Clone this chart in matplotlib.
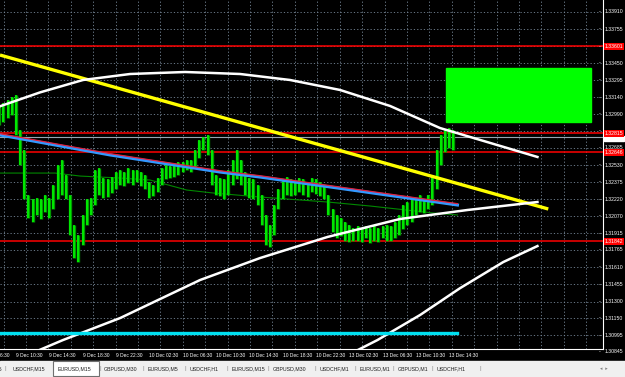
import numpy as np
import matplotlib.pyplot as plt
from matplotlib.patches import Rectangle
from matplotlib.transforms import blended_transform_factory

plt.rcParams['font.family'] = ['Liberation Sans', 'DejaVu Sans']

# bar data: 30 minute bars, time in hours from "9 Dec 10:30"
bar_t = np.arange(-2.0, 53.0, 0.5)
bar_hi = [1.3307, 1.3309, 1.3312, 1.3314, 1.3316, 1.3285, 1.3267, 1.3226, 1.3222, 1.3223,
          1.3222, 1.3226, 1.3223, 1.3235, 1.3253, 1.3258, 1.3244, 1.3226, 1.3199, 1.3190,
          1.3208, 1.3222, 1.3223, 1.3249, 1.3250, 1.3241, 1.3240, 1.3242, 1.3247, 1.3249,
          1.3247, 1.3250, 1.3249, 1.3249, 1.3247, 1.3244, 1.3238, 1.3235, 1.3241, 1.3250,
          1.3253, 1.3252, 1.3255, 1.3256, 1.3256, 1.3258, 1.3258, 1.3267, 1.3276, 1.3278,
          1.3280, 1.3267, 1.3244, 1.3241, 1.3240, 1.3249, 1.3258, 1.3267, 1.3258, 1.3247,
          1.3241, 1.3240, 1.3235, 1.3226, 1.3208, 1.3199, 1.3217, 1.3231, 1.3240, 1.3242,
          1.3240, 1.3238, 1.3241, 1.3240, 1.3238, 1.3241, 1.3240, 1.3238, 1.3235, 1.3226,
          1.3213, 1.3208, 1.3205, 1.3202, 1.3199, 1.3196, 1.3198, 1.3196, 1.3198, 1.3196,
          1.3199, 1.3196, 1.3198, 1.3199, 1.3198, 1.3202, 1.3208, 1.3217, 1.3220, 1.3222,
          1.3223, 1.3226, 1.3222, 1.3226, 1.3244, 1.3267, 1.3280, 1.3285, 1.3286, 1.3285]
bar_lo = [1.3289, 1.3292, 1.3295, 1.3298, 1.3280, 1.3253, 1.3222, 1.3205, 1.3202, 1.3208,
          1.3204, 1.3211, 1.3205, 1.3213, 1.3222, 1.3226, 1.3222, 1.3190, 1.3169, 1.3166,
          1.3181, 1.3199, 1.3208, 1.3217, 1.3226, 1.3223, 1.3224, 1.3228, 1.3231, 1.3235,
          1.3234, 1.3237, 1.3235, 1.3238, 1.3234, 1.3231, 1.3223, 1.3225, 1.3229, 1.3235,
          1.3240, 1.3241, 1.3242, 1.3244, 1.3247, 1.3249, 1.3247, 1.3250, 1.3259, 1.3267,
          1.3262, 1.3235, 1.3226, 1.3225, 1.3222, 1.3226, 1.3235, 1.3240, 1.3235, 1.3226,
          1.3223, 1.3222, 1.3217, 1.3199, 1.3181, 1.3179, 1.3190, 1.3213, 1.3222, 1.3226,
          1.3225, 1.3226, 1.3229, 1.3226, 1.3224, 1.3229, 1.3227, 1.3225, 1.3222, 1.3208,
          1.3193, 1.3187, 1.3189, 1.3185, 1.3184, 1.3185, 1.3185, 1.3184, 1.3187, 1.3183,
          1.3185, 1.3184, 1.3187, 1.3185, 1.3185, 1.3187, 1.3190, 1.3195, 1.3199, 1.3202,
          1.3208, 1.3211, 1.3210, 1.3213, 1.3217, 1.3231, 1.3253, 1.3265, 1.3268, 1.3267]

# moving average (blue with red) and thin green line
ma_t = [-1.92, 11.3, 24.5, 29.3, 53.0]
ma_p = [1.32801, 1.32621, 1.32467, 1.32422, 1.32170]
gl_t = [-1.92, 4.7, 7.7, 12.5, 16.1, 20.5, 23.7, 29.3, 37.4, 42.5, 50.1, 53.0]
gl_p = [1.32458, 1.32458, 1.32431, 1.32413, 1.32395, 1.32305, 1.32278, 1.32242, 1.32197, 1.32161, 1.32098, 1.32080]

# yellow trend line
tr_t = [-1.92, 63.9]
tr_p = [1.33522, 1.32134]

# white channel curves
up_t = [-1.92, 2.88, 8.05, 13.7, 20.3, 26.9, 32.9, 38.9, 44.9, 50.9, 62.6]
up_p = [1.33060, 1.33185, 1.33297, 1.33351, 1.33369, 1.33351, 1.33297, 1.33207, 1.33063, 1.32864, 1.32603]
lo_t = [1.68, 5.65, 12.5, 22.1, 29.3, 37.4, 46.1, 54.2, 62.6]
lo_p = [1.30827, 1.30953, 1.31151, 1.31494, 1.31692, 1.31882, 1.32044, 1.32125, 1.32197]
lo2_t = [40.1, 43.4, 48.5, 53.3, 58.5, 62.6]
lo2_p = [1.30827, 1.30953, 1.31178, 1.31420, 1.31656, 1.31800]

# horizontal levels
red_levels = [1.33601, 1.32817, 1.32646, 1.31842]
red_labels = ['1.33601', '1.32815', '1.32646', '1.31842']
bid = 1.32783
cyan_level = 1.31016
cyan_end = 53.0

# green box
box_t = [51.6, 69.0]
box_p = [1.32918, 1.33405]

price_ticks = [1.33910, 1.33755, 1.33600, 1.33450, 1.33295, 1.33140, 1.32990, 1.32835,
               1.32685, 1.32530, 1.32375, 1.32220, 1.32070, 1.31915, 1.31765, 1.31610,
               1.31455, 1.31300, 1.31150, 1.30995, 1.30845]
# labels hidden under the red level boxes are left empty
price_tick_labels = ['1.33910', '1.33755', '', '1.33450', '1.33295', '1.33140', '1.32990', '',
                     '1.32685', '1.32530', '1.32375', '1.32220', '1.32070', '1.31915', '1.31765',
                     '1.31610', '1.31455', '1.31300', '1.31150', '1.30995', '1.30845']

time_ticks = [-4, 0, 4, 8, 12, 16, 20, 24, 28, 32, 36, 40, 44, 48, 52]
time_labels = ['9 Dec 06:30', '9 Dec 10:30', '9 Dec 14:30', '9 Dec 18:30', '9 Dec 22:30',
               '10 Dec 02:30', '10 Dec 06:30', '10 Dec 10:30', '10 Dec 14:30', '10 Dec 18:30',
               '10 Dec 22:30', '13 Dec 02:30', '13 Dec 06:30', '13 Dec 10:30', '13 Dec 14:30']
vgrid = np.arange(-1.49, 70.5, 2.69)

tabs = ['USDCHF,M15', 'USDCHF,M15', 'EURUSD,M15', 'GBPUSD,M30', 'EURUSD,M5', 'USDCHF,H1',
        'EURUSD,M15', 'GBPUSD,M30', 'USDCHF,M1', 'EURUSD,M1', 'GBPUSD,M1', 'USDCHF,H1']
tab_x = [-30, 13, 58, 104, 148, 190, 232, 273, 320, 360, 398, 437]
tab_sep = [5, 100, 143, 185, 227, 268, 315, 355, 393, 432, 480]

W, H = 625, 377
fig = plt.figure(figsize=(W / 100, H / 100), dpi=100, facecolor='black')
ax = fig.add_axes([0, (H - 349) / H, 603 / W, 349 / H])
ax.set_facecolor('black')
ax.set_xlim(-1.92, 70.47)
ax.set_ylim(1.30872, 1.34018)
for s in ['left', 'top']:
    ax.spines[s].set_visible(False)
for s in ['right', 'bottom']:
    ax.spines[s].set_color('white')
    ax.spines[s].set_linewidth(0.8)
ax.set_xticks([])
ax.set_yticks([])

gridc = '#778899'
for p in price_ticks:
    ax.axhline(p, color=gridc, lw=0.6, ls=(0, (1.5, 2.5)), zorder=1)
for t in vgrid:
    ax.axvline(t, color=gridc, lw=0.6, ls=(0, (1.5, 2.5)), zorder=1)

ax.add_patch(Rectangle((box_t[0], box_p[0]), box_t[1] - box_t[0], box_p[1] - box_p[0],
                       color='#00ff00', zorder=2))

for p in red_levels:
    ax.axhline(p, color='#ff0000', lw=1.1, zorder=3)
ax.axhline(bid, color='#9aa4b0', lw=0.8, zorder=3)

ax.plot(gl_t, gl_p, color='#008800', lw=0.8, zorder=3)
ax.vlines(bar_t, bar_lo, bar_hi, color='#009a00', lw=2.4, zorder=4)
ax.vlines(bar_t, bar_lo, bar_hi, color='#00ff00', lw=1.1, zorder=4)

ax.plot(ma_t, ma_p, color='#3399ff', lw=2.2, zorder=5)
ax.plot(ma_t, np.array(ma_p) + 0.00012, color='#e0203c', lw=0.9, zorder=5)

ax.plot(tr_t, tr_p, color='#ffff00', lw=2.4, zorder=6, solid_capstyle='butt')
ax.plot(up_t, up_p, color='white', lw=1.8, zorder=6)
ax.plot(lo_t, lo_p, color='white', lw=1.8, zorder=6)
ax.plot(lo2_t, lo2_p, color='white', lw=1.8, zorder=6)
ax.plot([-1.92, cyan_end], [cyan_level, cyan_level], color='#00e0f0', lw=2.4, zorder=6)

# price scale labels
ty = blended_transform_factory(ax.transAxes, ax.transData)
for p, lab in zip(price_ticks, price_tick_labels):
    ax.text(0.993, p, '-', transform=ty, color='white', fontsize=4, va='center', clip_on=False)
    if lab:
        ax.text(1.003, p, lab, transform=ty, color='white', fontsize=3.7, va='center', clip_on=False)
# bid marker: white strip under the red level box
ax.add_patch(Rectangle((1.002, bid - 0.00035), 0.033, 0.0004, transform=ty, color='white',
                       clip_on=False, zorder=7))
for p, lab in zip(red_levels, red_labels):
    ax.text(1.003, p, lab, transform=ty, color='white', fontsize=3.7, va='center', clip_on=False,
            zorder=8, bbox=dict(boxstyle='square,pad=0.2', fc='#ff0000', ec='none'))

# time labels
tx = blended_transform_factory(ax.transData, ax.transAxes)
for t, lab in zip(time_ticks, time_labels):
    ax.text(t, -0.012, lab, transform=tx, color='white', fontsize=3.5, va='top', ha='left',
            clip_on=False)

# tab bar
fig.patches.append(Rectangle((0, 0), 1, 16 / H, transform=fig.transFigure, color='#f0f0f0', zorder=0))
fig.patches.append(Rectangle((53 / W, 1 / H), 46 / W, 15 / H, transform=fig.transFigure,
                             fc='white', ec='#707070', lw=0.8, zorder=1))
for name, x in zip(tabs, tab_x):
    fig.text(x / W, 8.5 / H, name, color='#202020', fontsize=3.8, va='center', ha='left')
for x in tab_sep:
    fig.text(x / W, 8.5 / H, '|', color='#909090', fontsize=4.5, va='center', ha='center')
fig.text(600 / W, 8.5 / H, '\u25c2  \u25b8', color='#808080', fontsize=3.5, va='center')

fig.savefig('out.png', dpi=100, facecolor='black')
